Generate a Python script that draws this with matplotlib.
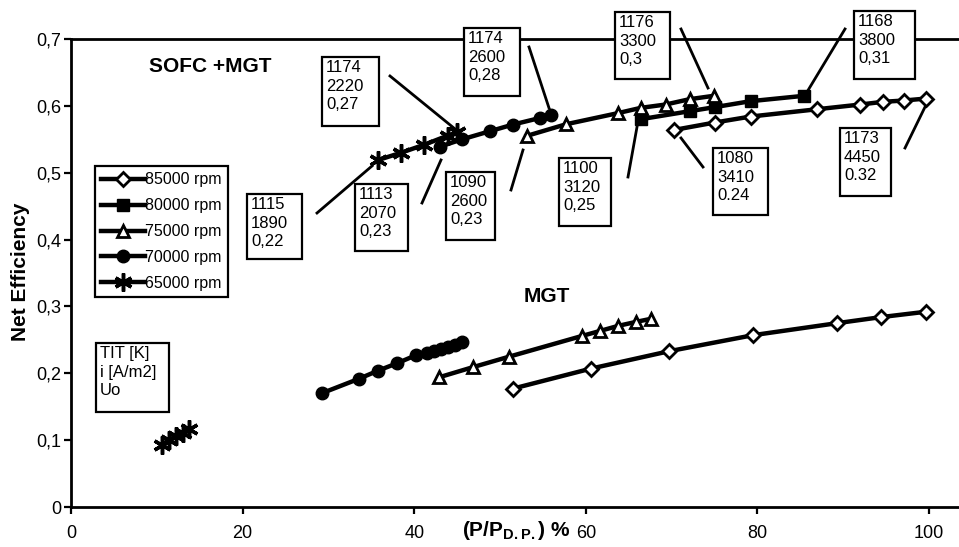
import matplotlib
matplotlib.use('Agg')
import matplotlib.pyplot as plt
from matplotlib.patches import Rectangle
from matplotlib.lines import Line2D
from matplotlib.transforms import Affine2D

plt.rcParams['font.family'] = ['Liberation Sans', 'DejaVu Sans']
plt.rcParams['mathtext.fontset'] = 'custom'
plt.rcParams['mathtext.rm'] = 'Liberation Sans'
plt.rcParams['mathtext.bf'] = 'Liberation Sans:bold'

# ---------------- data ----------------
legend_labels = ['85000 rpm', '80000 rpm', '75000 rpm', '70000 rpm', '65000 rpm']

# SOFC + MGT
sofc_85_x = [70.3, 75.0, 79.2, 87.0, 92.0, 94.6, 97.1, 99.7]
sofc_85_y = [0.564, 0.575, 0.584, 0.595, 0.602, 0.606, 0.608, 0.611]
sofc_80_x = [66.4, 72.1, 75.0, 79.2, 85.4]
sofc_80_y = [0.580, 0.592, 0.598, 0.607, 0.615]
sofc_75_x = [53.1, 57.7, 63.7, 66.4, 69.3, 72.1, 74.9]
sofc_75_y = [0.555, 0.5725, 0.589, 0.597, 0.602, 0.610, 0.615]
sofc_70_x = [43.0, 45.6, 48.8, 51.5, 54.7, 56.0]
sofc_70_y = [0.539, 0.550, 0.562, 0.572, 0.582, 0.586]
sofc_65_x = [35.8, 38.5, 41.2, 43.9, 45.0]
sofc_65_y = [0.519, 0.530, 0.542, 0.5555, 0.5605]

# MGT alone
mgt_85_x = [51.5, 60.6, 69.7, 79.5, 89.3, 94.4, 99.6]
mgt_85_y = [0.177, 0.207, 0.233, 0.257, 0.275, 0.284, 0.292]
mgt_75_x = [42.9, 46.8, 51.1, 59.6, 61.7, 63.8, 65.9, 67.6]
mgt_75_y = [0.194, 0.209, 0.225, 0.256, 0.2635, 0.271, 0.277, 0.2815]
mgt_70_x = [29.2, 33.6, 35.8, 38.0, 40.2, 41.5, 42.3, 43.1, 43.9, 44.7, 45.6]
mgt_70_y = [0.170, 0.192, 0.204, 0.215, 0.227, 0.231, 0.234, 0.237, 0.240, 0.243, 0.247]
mgt_65_x = [10.6, 11.4, 12.2, 13.0, 13.8]
mgt_65_y = [0.093, 0.100, 0.106, 0.111, 0.117]

x_ticks = [0, 20, 40, 60, 80, 100]
x_ticklabels = ['0', '20', '40', '60', '80', '100']
y_ticks = [0, 0.1, 0.2, 0.3, 0.4, 0.5, 0.6, 0.7]
y_ticklabels = ['0', '0,1', '0,2', '0,3', '0,4', '0,5', '0,6', '0,7']

# annotation texts (TIT, i, Uo)
ann_texts = ['1174\n2220\n0,27', '1174\n2600\n0,28', '1176\n3300\n0,3', '1168\n3800\n0,31',
             '1100\n3120\n0,25', '1080\n3410\n0.24', '1173\n4450\n0.32', '1090\n2600\n0,23',
             '1113\n2070\n0,23', '1115\n1890\n0,22']

# ---------------- figure ----------------
W, H = 959, 547
fig = plt.figure(figsize=(W / 100, H / 100), dpi=100)
ax = fig.add_axes([71 / W, 1 - 507 / H, (W - 71) / W, (507 - 39) / H])
ax.set_xlim(0, (W - 71) / 8.58)
ax.set_ylim(0, 0.7)

# pixel transform (origin top-left) for annotations
pix = Affine2D().scale(1 / W, -1 / H).translate(0, 1) + fig.transFigure

styles = {
    '85': dict(marker='D', ms=7, mfc='white', mec='black', mew=2),
    '80': dict(marker='s', ms=9, mfc='black', mec='black', mew=1),
    '75': dict(marker='^', ms=9, mfc='white', mec='black', mew=2),
    '70': dict(marker='o', ms=9, mfc='black', mec='black', mew=1),
    '65': dict(marker=(6, 2, 0), ms=13, mfc='black', mec='black', mew=2.5),
}
lw = 3.2

series = [
    (sofc_85_x, sofc_85_y, '85'), (sofc_80_x, sofc_80_y, '80'), (sofc_75_x, sofc_75_y, '75'),
    (sofc_70_x, sofc_70_y, '70'), (sofc_65_x, sofc_65_y, '65'),
    (mgt_85_x, mgt_85_y, '85'), (mgt_75_x, mgt_75_y, '75'), (mgt_70_x, mgt_70_y, '70'),
    (mgt_65_x, mgt_65_y, '65'),
]
for xs, ys, key in series:
    ax.plot(xs, ys, color='black', lw=lw, clip_on=False, **styles[key])

# axes styling
for s in ['left', 'bottom', 'top']:
    ax.spines[s].set_linewidth(2)
ax.spines['right'].set_visible(False)
ax.set_xticks(x_ticks)
ax.set_xticklabels(x_ticklabels)
ax.set_yticks(y_ticks)
ax.set_yticklabels(y_ticklabels)
ax.tick_params(axis='both', direction='out', length=5, width=1.6, labelsize=13)
ax.tick_params(axis='x', pad=8)
ax.tick_params(axis='y', pad=2)
ax.xaxis.set_ticks_position('bottom')
ax.yaxis.set_ticks_position('left')

# labels
fig.text(21 / W, 1 - 272 / H, 'Net Efficiency', rotation=90, ha='center', va='center',
         fontsize=15, fontweight='bold')
fig.text(462 / W, 1 - 531 / H, '(P/P$_{\\mathbf{D.P.}}$) %', ha='left', va='center',
         fontsize=15, fontweight='bold')
fig.text(210 / W, 1 - 66 / H, 'SOFC +MGT', ha='center', va='center', fontsize=15, fontweight='bold')
fig.text(547 / W, 1 - 297 / H, 'MGT', ha='center', va='center', fontsize=15, fontweight='bold')

# annotation boxes: (left, top, right, bottom) in pixels
boxes = [(322, 57, 379, 126), (464, 28, 520, 96), (615, 12, 670, 79), (854, 11, 915, 79),
         (559, 158, 611, 226), (713, 148, 768, 215), (840, 128, 891, 196), (446, 172, 495, 240),
         (355, 184, 408, 251), (247, 194, 302, 259)]
leaders = [((390, 76), (460, 133)), ((529, 47), (549, 108)), ((681, 29), (708, 88)),
           ((845, 29), (807, 92)), ((628, 177), (637, 127)), ((681, 138), (703, 167)),
           ((925, 107), (905, 148)), ((523, 150), (511, 190)), ((441, 160), (422, 203)),
           ((317, 213), (372, 166))]

for (l, t, r, b), txt in zip(boxes, ann_texts):
    fig.add_artist(Rectangle((l, t), r - l, b - t, transform=pix, facecolor='white',
                             edgecolor='black', lw=1.6, zorder=10))
    fig.text(l + 4, t + 3, txt, transform=pix, ha='left', va='top', fontsize=12,
             linespacing=1.3, zorder=11)
for (p0, p1) in leaders:
    fig.add_artist(Line2D([p0[0], p1[0]], [p0[1], p1[1]], transform=pix, color='black',
                          lw=2, zorder=9))

# TIT box
fig.add_artist(Rectangle((96, 343), 73, 69, transform=pix, facecolor='white',
                         edgecolor='black', lw=1.6, zorder=10))
fig.text(100, 346, 'TIT [K]\ni [A/m2]\nUo', transform=pix, ha='left', va='top', fontsize=12,
         linespacing=1.3, zorder=11)

# legend
handles = [Line2D([], [], color='black', lw=lw, **styles[k]) for k in ['85', '80', '75', '70', '65']]
leg = ax.legend(handles, legend_labels, loc='upper left', bbox_to_anchor=(95 / W, 1 - 166 / H),
                bbox_transform=fig.transFigure, borderaxespad=0, fontsize=11.5, numpoints=1,
                handlelength=2.7, handletextpad=0.05, labelspacing=0.68, borderpad=0.4,
                fancybox=False, framealpha=1, edgecolor='black')
leg.get_frame().set_linewidth(1.6)

fig.savefig('out.png', dpi=100)
